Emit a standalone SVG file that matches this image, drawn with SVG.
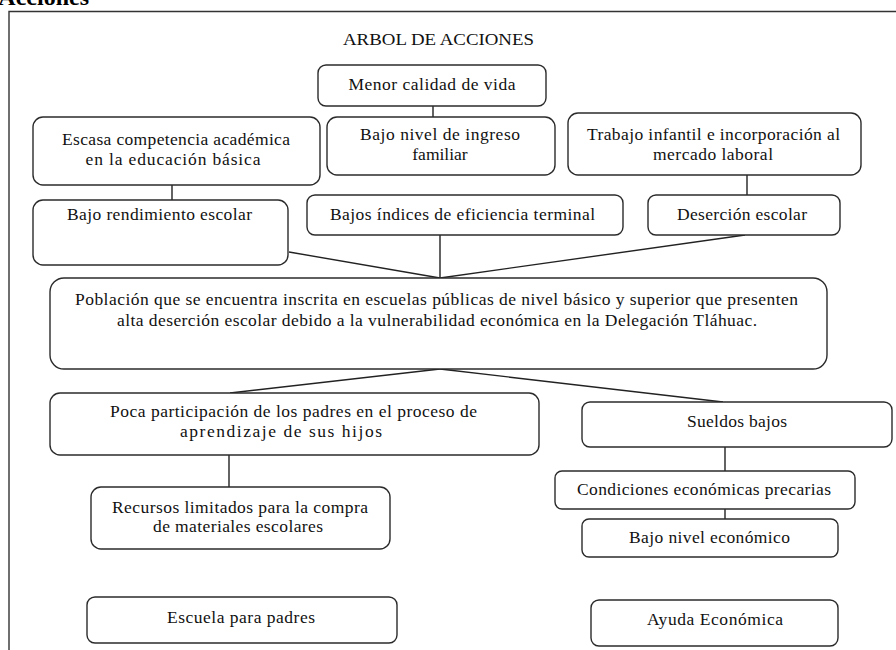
<svg xmlns="http://www.w3.org/2000/svg" width="896" height="650" viewBox="0 0 896 650">
<style>
.box{fill:#fff;stroke:#2b2b2b;stroke-width:1.4}
.t{font-family:"Liberation Serif","Times New Roman",serif;font-size:17.5px;fill:#111;text-anchor:middle}
.conn line,.conn path{stroke:#222;stroke-width:1.4;fill:none}
.frame{stroke:#333;stroke-width:1.4;fill:none}
</style>
<rect width="896" height="650" fill="#fff"/>
<text x="89" y="5" font-family="Liberation Serif,serif" font-weight="bold" font-size="24" text-anchor="end" fill="#000">Acciones</text>
<path class="frame" d="M9,650 V11.5 H896"/>
<text id="title" class="t" x="438.5" y="45" textLength="191" lengthAdjust="spacingAndGlyphs">ARBOL DE ACCIONES</text>

<g class="conn" id="connectors">
<line x1="433" y1="106" x2="433" y2="117"/>
<line x1="172" y1="185" x2="172" y2="200"/>
<line x1="747" y1="175" x2="747" y2="195"/>
<line x1="289" y1="252" x2="440" y2="278"/>
<line x1="440" y1="235" x2="440" y2="278"/>
<line x1="745" y1="235" x2="440" y2="278"/>
<line x1="440" y1="369" x2="230" y2="393"/>
<line x1="440" y1="369" x2="723" y2="402"/>
<line x1="229" y1="455" x2="229" y2="487"/>
<line x1="725" y1="447" x2="725" y2="471"/>
<line x1="725" y1="509" x2="725" y2="519"/>
</g>

<g id="n-menor">
<rect class="box" x="318" y="65" width="228" height="41" rx="8"/>
<text class="t" x="432" y="90" textLength="167" lengthAdjust="spacing">Menor calidad de vida</text>
</g>
<g id="n-escasa">
<rect class="box" x="33" y="117" width="287" height="68" rx="10"/>
<text class="t" x="176" y="145" textLength="228" lengthAdjust="spacing">Escasa competencia académica</text>
<text class="t" x="173" y="165" textLength="175" lengthAdjust="spacing">en la educación básica</text>
</g>
<g id="n-ingreso">
<rect class="box" x="327" y="117" width="228" height="58" rx="10"/>
<text class="t" x="440" y="140" textLength="160" lengthAdjust="spacing">Bajo nivel de ingreso</text>
<text class="t" x="440" y="160">familiar</text>
</g>
<g id="n-trabajo">
<rect class="box" x="568" y="113" width="293" height="62" rx="10"/>
<text class="t" x="713.5" y="140" textLength="253" lengthAdjust="spacing">Trabajo infantil e incorporación al</text>
<text class="t" x="713" y="160" textLength="120" lengthAdjust="spacing">mercado laboral</text>
</g>
<g id="n-rendimiento">
<rect class="box" x="33" y="200" width="255" height="65" rx="10"/>
<text class="t" x="159.5" y="220" textLength="185" lengthAdjust="spacing">Bajo rendimiento escolar</text>
</g>
<g id="n-indices">
<rect class="box" x="307" y="195" width="316" height="40" rx="8"/>
<text class="t" x="462.5" y="220" textLength="265" lengthAdjust="spacing">Bajos índices de eficiencia  terminal</text>
</g>
<g id="n-desercion">
<rect class="box" x="648" y="195" width="192" height="40" rx="8"/>
<text class="t" x="742" y="220" textLength="130" lengthAdjust="spacing">Deserción escolar</text>
</g>
<g id="n-poblacion">
<rect class="box" x="50" y="278" width="777" height="91" rx="14"/>
<text class="t" x="436.5" y="305" textLength="723" lengthAdjust="spacing">Población que se encuentra inscrita en escuelas públicas de nivel básico y superior que presenten</text>
<text class="t" x="437" y="326" textLength="640" lengthAdjust="spacing">alta deserción escolar debido a la vulnerabilidad económica en la Delegación Tláhuac.</text>
</g>
<g id="n-poca">
<rect class="box" x="50" y="393" width="489" height="62" rx="10"/>
<text class="t" x="293.5" y="417" textLength="367" lengthAdjust="spacing">Poca participación  de los padres en el proceso de</text>
<text class="t" x="281" y="437" textLength="202" lengthAdjust="spacing">aprendizaje de sus hijos</text>
</g>
<g id="n-sueldos">
<rect class="box" x="582" y="402" width="310" height="45" rx="8"/>
<text class="t" x="737" y="427" textLength="100" lengthAdjust="spacing">Sueldos bajos</text>
</g>
<g id="n-recursos">
<rect class="box" x="91" y="487" width="299" height="62" rx="10"/>
<text class="t" x="240" y="513" textLength="256" lengthAdjust="spacing">Recursos limitados para la compra</text>
<text class="t" x="238" y="532" textLength="170" lengthAdjust="spacing">de materiales  escolares</text>
</g>
<g id="n-condiciones">
<rect class="box" x="555" y="471" width="300" height="38" rx="7"/>
<text class="t" x="704" y="495" textLength="254" lengthAdjust="spacing">Condiciones  económicas  precarias</text>
</g>
<g id="n-bajonivel">
<rect class="box" x="582" y="519" width="256" height="38" rx="7"/>
<text class="t" x="709.5" y="543" textLength="161" lengthAdjust="spacing">Bajo nivel económico</text>
</g>
<g id="n-escuela">
<rect class="box" x="87" y="597" width="310" height="46" rx="8"/>
<text class="t" x="241" y="623" textLength="148" lengthAdjust="spacing">Escuela para padres</text>
</g>
<g id="n-ayuda">
<rect class="box" x="591" y="600" width="247" height="46" rx="8"/>
<text class="t" x="715" y="625" textLength="136" lengthAdjust="spacing">Ayuda Económica</text>
</g>
</svg>
